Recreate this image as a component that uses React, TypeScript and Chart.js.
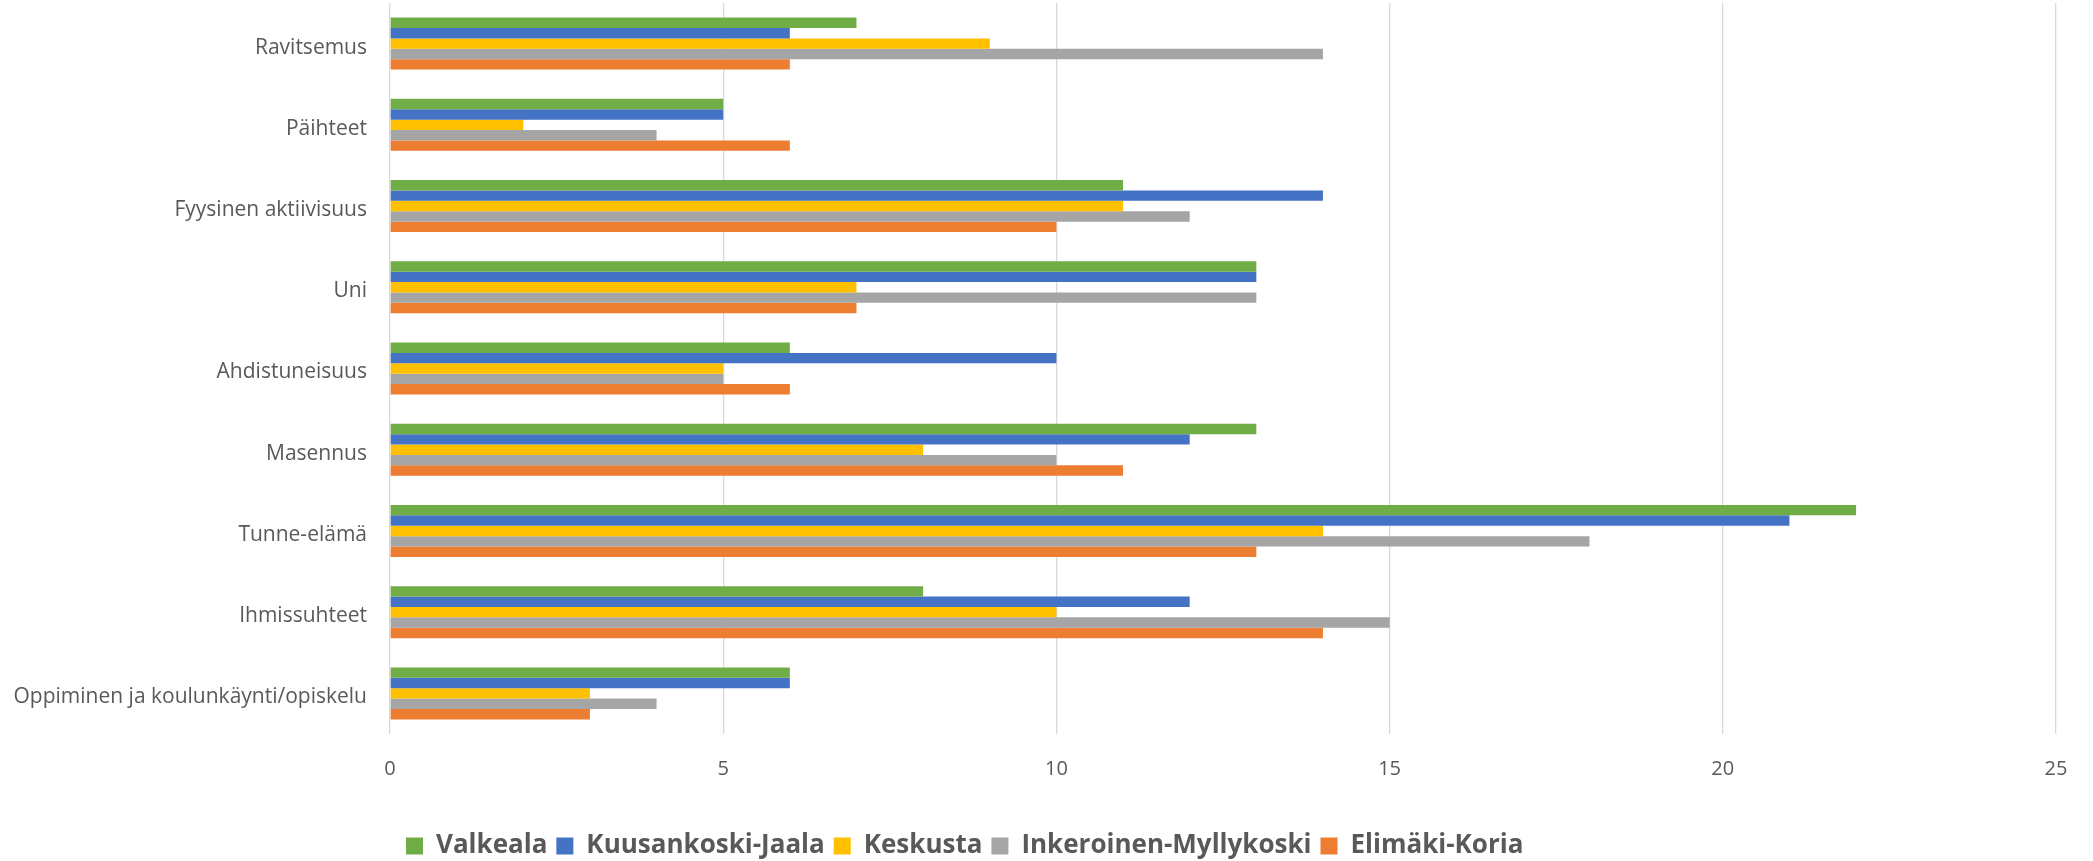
import React, { useEffect, useRef } from "react";
import { Chart, registerables } from "chart.js";

Chart.register(...registerables);

const categories = [
  "Ravitsemus",
  "Päihteet",
  "Fyysinen aktiivisuus",
  "Uni",
  "Ahdistuneisuus",
  "Masennus",
  "Tunne-elämä",
  "Ihmissuhteet",
  "Oppiminen ja koulunkäynti/opiskelu",
];

const valkeala = [7, 5, 11, 13, 6, 13, 22, 8, 6];
const kuusankoskiJaala = [6, 5, 14, 13, 10, 12, 21, 12, 6];
const keskusta = [9, 2, 11, 7, 5, 8, 14, 10, 3];
const inkeroinenMyllykoski = [14, 4, 12, 13, 5, 10, 18, 15, 4];
const elimakiKoria = [6, 6, 10, 7, 6, 11, 13, 14, 3];

const seriesNames = [
  "Valkeala",
  "Kuusankoski-Jaala",
  "Keskusta",
  "Inkeroinen-Myllykoski",
  "Elimäki-Koria",
];
const seriesValues = [valkeala, kuusankoskiJaala, keskusta, inkeroinenMyllykoski, elimakiKoria];
const seriesColors = ["#70AD47", "#4472C4", "#FFC000", "#A5A5A5", "#ED7D31"];

const xMin = 0;
const xMax = 25;
const xStep = 5;

const FONT = "'Open Sans', sans-serif";
const TEXT = "#595959";

const legendShift = {
  id: "legendShift",
  afterLayout(chart: any) {
    const lg = chart.legend;
    if (!lg) return;
    const pad = chart.options.plugins.legend.labels.padding;
    const size = chart.options.plugins.legend.labels.font.size;
    const w = lg.right - lg.left;
    const h = lg.bottom - lg.top;
    lg.left = 406 - pad;
    lg.right = lg.left + w;
    lg.top = 846 - pad - size / 2;
    lg.bottom = lg.top + h;
  },
};

export default function App() {
  const ref = useRef<HTMLCanvasElement | null>(null);

  useEffect(() => {
    if (!ref.current) return;
    const chart = new Chart(ref.current, {
      type: "bar",
      data: {
        labels: categories,
        datasets: seriesNames.map((name, i) => ({
          label: name,
          data: seriesValues[i],
          backgroundColor: seriesColors[i],
          borderColor: seriesColors[i],
          borderWidth: 0,
          categoryPercentage: 0.64,
          barPercentage: 1.0,
        })),
      },
      options: {
        indexAxis: "y",
        responsive: false,
        animation: false,
        layout: { padding: { top: 3, right: 37, bottom: 0, left: 0 } },
        scales: {
          x: {
            type: "linear",
            min: xMin,
            max: xMax,
            ticks: {
              stepSize: xStep,
              padding: 23,
              color: TEXT,
              font: { family: FONT, size: 20 },
            },
            grid: { color: "#D9D9D9", lineWidth: 1.3, drawTicks: false },
            border: { display: false },
            afterFit: (scale: any) => {
              scale.height = 82;
              scale.paddingLeft = 0;
              scale.paddingRight = 0;
            },
          },
          y: {
            type: "category",
            grid: { display: false, drawTicks: false },
            border: { display: false },
            ticks: {
              padding: 23,
              labelOffset: 4,
              autoSkip: false,
              color: TEXT,
              font: { family: FONT, size: 21 },
            },
            afterFit: (scale: any) => {
              scale.width = 390;
              scale.paddingTop = 0;
              scale.paddingBottom = 0;
            },
          },
        },
        plugins: {
          legend: {
            position: "bottom",
            align: "start",
            labels: {
              boxWidth: 17,
              boxHeight: 17,
              padding: 9,
              color: TEXT,
              font: { family: FONT, size: 26, weight: "bold" },
            },
          },
          tooltip: { enabled: false },
        },
      },
      plugins: [legendShift],
    } as any);
    return () => chart.destroy();
  }, []);

  return (
    <div style={{ position: "absolute", left: 0, top: 0, width: 2093, height: 861 }}>
      <canvas ref={ref} width={2093} height={861} style={{ width: 2093, height: 861 }} />
    </div>
  );
}
